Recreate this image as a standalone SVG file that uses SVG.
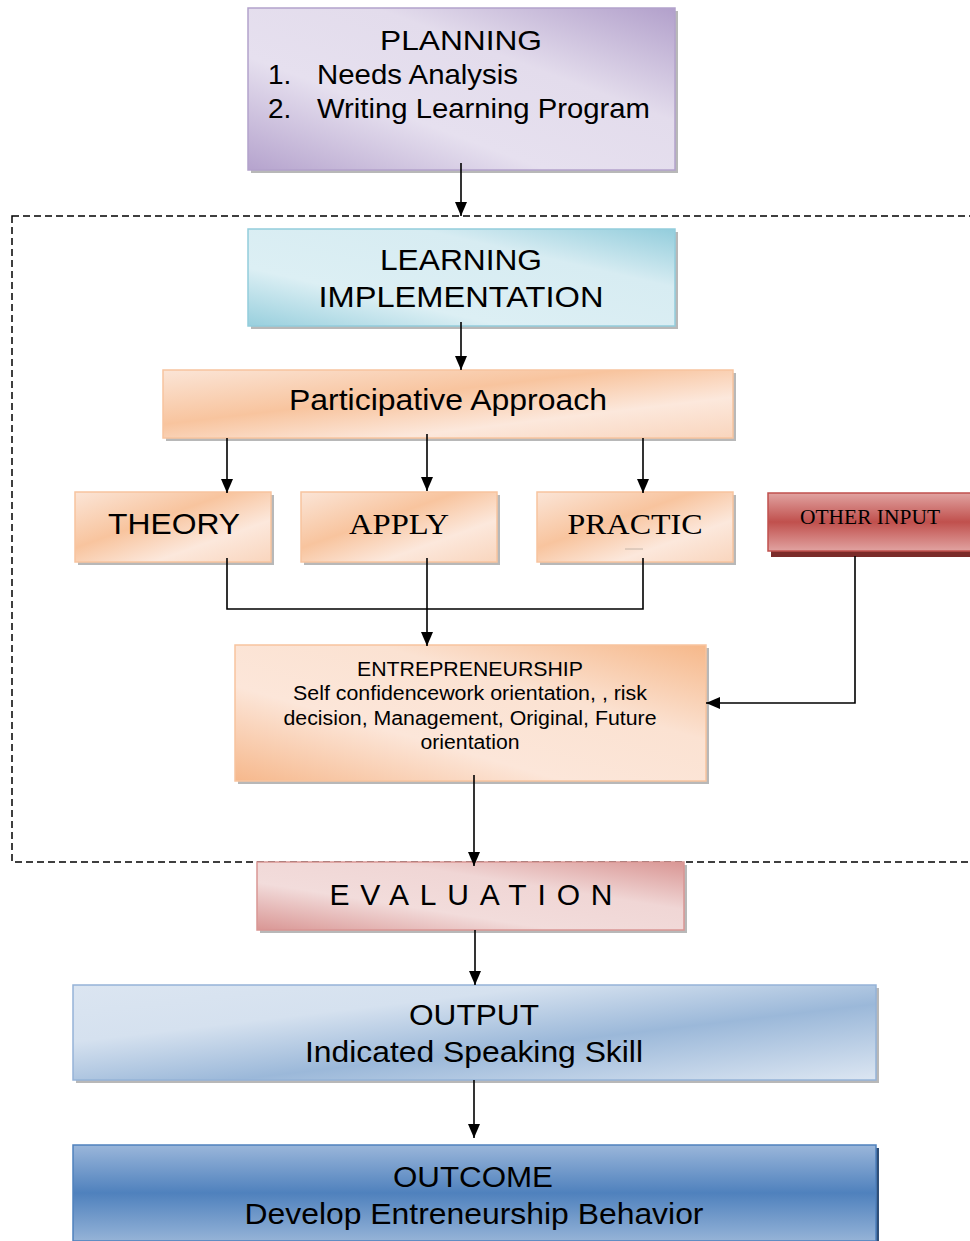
<svg xmlns="http://www.w3.org/2000/svg" width="970" height="1241" viewBox="0 0 970 1241">
<defs>
<linearGradient id="gPurple" x1="0" y1="1" x2="1" y2="0"><stop offset="0" stop-color="#b5a3cd"/><stop offset="0.35" stop-color="#e6e0ef"/><stop offset="0.65" stop-color="#e3dcec"/><stop offset="1" stop-color="#b2a0cb"/></linearGradient>
<linearGradient id="gCyan2" x1="0" y1="1" x2="1" y2="0"><stop offset="0" stop-color="#98cfdd"/><stop offset="0.3" stop-color="#dceff4"/><stop offset="0.7" stop-color="#d7ecf2"/><stop offset="1" stop-color="#93cddc"/></linearGradient>
<linearGradient id="gOrange" x1="0" y1="0" x2="1" y2="1"><stop offset="0" stop-color="#fbe5d7"/><stop offset="0.4" stop-color="#f8c49e"/><stop offset="0.7" stop-color="#fce8dc"/><stop offset="1" stop-color="#f9d5bd"/></linearGradient>
<linearGradient id="gOrange2" x1="0" y1="1" x2="1" y2="0"><stop offset="0" stop-color="#f6b88c"/><stop offset="0.35" stop-color="#fce6d9"/><stop offset="0.65" stop-color="#fbe2d2"/><stop offset="1" stop-color="#f6b88a"/></linearGradient>
<linearGradient id="gRed" x1="0" y1="0" x2="0" y2="1"><stop offset="0" stop-color="#e1a3a1"/><stop offset="0.5" stop-color="#c0504d"/><stop offset="1" stop-color="#e1a3a1"/></linearGradient>
<linearGradient id="gPink" x1="0" y1="1" x2="1" y2="0"><stop offset="0" stop-color="#d99694"/><stop offset="0.35" stop-color="#f2dcdb"/><stop offset="0.65" stop-color="#f0d6d5"/><stop offset="1" stop-color="#d99694"/></linearGradient>
<linearGradient id="gLBlue" x1="0" y1="0" x2="1" y2="1"><stop offset="0" stop-color="#dbe5f1"/><stop offset="0.3" stop-color="#d5e1ef"/><stop offset="0.6" stop-color="#9bb8d9"/><stop offset="1" stop-color="#dce6f2"/></linearGradient>
<linearGradient id="gDBlue" x1="0" y1="0" x2="0" y2="1"><stop offset="0" stop-color="#9ab6da"/><stop offset="0.5" stop-color="#4f81bd"/><stop offset="1" stop-color="#95b3d7"/></linearGradient>
<marker id="arr" viewBox="0 0 14 12" refX="14" refY="6" markerWidth="14" markerHeight="12" markerUnits="userSpaceOnUse" orient="auto"><path d="M0,0 L14,6 L0,12 z" fill="#000"/></marker>
</defs>
<style>
.sh{fill:#9a9a9a;opacity:0.7}
.t{font-family:"Liberation Sans",Arial,sans-serif;fill:#000;text-anchor:middle}
.l{text-anchor:start}
.s{font-family:"Liberation Serif","Times New Roman",serif;fill:#000;text-anchor:middle}
.ln{stroke:#000;stroke-width:1.6;fill:none}
.ar{stroke:#000;stroke-width:1.6;fill:none;marker-end:url(#arr)}
</style>
<rect width="970" height="1241" fill="#fff"/>

<rect x="12" y="216" width="980" height="646" fill="none" stroke="#000" stroke-width="1.5" stroke-dasharray="7,4"/>

<g id="planning">
<rect class="sh" x="251" y="11" width="427" height="162"/>
<rect x="248" y="8" width="427" height="162" fill="url(#gPurple)" stroke="#b3a2cb" stroke-width="1.5"/>
<text class="t" x="461" y="50" font-size="28" textLength="162" lengthAdjust="spacingAndGlyphs">PLANNING</text>
<text class="t l" x="268" y="84" font-size="28">1.</text>
<text class="t l" x="317" y="84" font-size="28" textLength="201" lengthAdjust="spacingAndGlyphs">Needs Analysis</text>
<text class="t l" x="268" y="118" font-size="28">2.</text>
<text class="t l" x="317" y="118" font-size="28" textLength="333" lengthAdjust="spacingAndGlyphs">Writing Learning Program</text>
</g>

<g id="learning">
<rect class="sh" x="251" y="232" width="427" height="97"/>
<rect x="248" y="229" width="427" height="97" fill="url(#gCyan2)" stroke="#93cddc" stroke-width="1.5"/>
<text class="t" x="461" y="270" font-size="30" textLength="162" lengthAdjust="spacingAndGlyphs">LEARNING</text>
<text class="t" x="461" y="307" font-size="30" textLength="285" lengthAdjust="spacingAndGlyphs">IMPLEMENTATION</text>
</g>

<g id="participative">
<rect class="sh" x="166" y="373" width="570" height="68"/>
<rect x="163" y="370" width="570" height="68" fill="url(#gOrange)" stroke="#f7c49f" stroke-width="1.5"/>
<text class="t" x="448" y="410" font-size="30" textLength="318" lengthAdjust="spacingAndGlyphs">Participative Approach</text>
</g>

<g id="theory">
<rect class="sh" x="78" y="495" width="196" height="70"/>
<rect x="75" y="492" width="196" height="70" fill="url(#gOrange)" stroke="#f7c49f" stroke-width="1.5"/>
<text class="t" x="174" y="534" font-size="30" textLength="132" lengthAdjust="spacingAndGlyphs">THEORY</text>
</g>

<g id="apply">
<rect class="sh" x="304" y="495" width="196" height="70"/>
<rect x="301" y="492" width="196" height="70" fill="url(#gOrange)" stroke="#f7c49f" stroke-width="1.5"/>
<text class="s" x="399" y="534" font-size="30" textLength="100" lengthAdjust="spacingAndGlyphs">APPLY</text>
</g>

<g id="practic">
<rect class="sh" x="540" y="495" width="196" height="70"/>
<rect x="537" y="492" width="196" height="70" fill="url(#gOrange)" stroke="#f7c49f" stroke-width="1.5"/>
<text class="s" x="635" y="534" font-size="30" textLength="135" lengthAdjust="spacingAndGlyphs">PRACTIC</text>
<line x1="625" y1="549" x2="643" y2="549" stroke="#b8a89c" stroke-width="0.8"/>
</g>

<g id="other-input">
<rect x="771" y="500" width="210" height="57" fill="#7b2c2a"/>
<rect x="768" y="493" width="210" height="58" fill="url(#gRed)" stroke="#c0504d" stroke-width="1.5"/>
<text class="s" x="870" y="524" font-size="20" textLength="140" lengthAdjust="spacingAndGlyphs">OTHER INPUT</text>
</g>

<g id="entrepreneurship">
<rect class="sh" x="238" y="648" width="471" height="136"/>
<rect x="235" y="645" width="471" height="136" fill="url(#gOrange2)" stroke="#f7c49f" stroke-width="1.5"/>
<text class="t" x="470" y="676" font-size="20" textLength="226" lengthAdjust="spacingAndGlyphs">ENTREPRENEURSHIP</text>
<text class="t" x="470" y="700" font-size="20" textLength="354" lengthAdjust="spacingAndGlyphs">Self confidencework orientation, , risk</text>
<text class="t" x="470" y="725" font-size="20" textLength="373" lengthAdjust="spacingAndGlyphs">decision, Management, Original, Future</text>
<text class="t" x="470" y="749" font-size="20" textLength="99" lengthAdjust="spacingAndGlyphs">orientation</text>
</g>

<g id="evaluation">
<rect class="sh" x="260" y="865" width="427" height="68"/>
<rect x="257" y="862" width="427" height="68" fill="url(#gPink)" stroke="#d99694" stroke-width="1.5"/>
<text class="t" x="471" y="905" font-size="30" textLength="283" lengthAdjust="spacing">EVALUATION</text>
</g>

<g id="output">
<rect class="sh" x="76" y="988" width="803" height="95"/>
<rect x="73" y="985" width="803" height="95" fill="url(#gLBlue)" stroke="#95b3d7" stroke-width="1.5"/>
<text class="t" x="474" y="1025" font-size="30" textLength="130" lengthAdjust="spacingAndGlyphs">OUTPUT</text>
<text class="t" x="474" y="1062" font-size="30" textLength="338" lengthAdjust="spacingAndGlyphs">Indicated Speaking Skill</text>
</g>

<g id="outcome">
<rect x="76" y="1148" width="803" height="96" fill="#2f4f78"/>
<rect x="73" y="1145" width="803" height="96" fill="url(#gDBlue)" stroke="#4f81bd" stroke-width="1.5"/>
<text class="t" x="473" y="1187" font-size="30" textLength="160" lengthAdjust="spacingAndGlyphs">OUTCOME</text>
<text class="t" x="474" y="1224" font-size="30" textLength="459" lengthAdjust="spacingAndGlyphs">Develop Entreneurship Behavior</text>
</g>

<g id="connectors">
<line class="ar" x1="461" y1="163" x2="461" y2="216"/>
<line class="ar" x1="461" y1="322" x2="461" y2="370"/>
<line class="ar" x1="227" y1="438" x2="227" y2="493"/>
<line class="ar" x1="427" y1="434" x2="427" y2="491"/>
<line class="ar" x1="643" y1="438" x2="643" y2="493"/>
<polyline class="ln" points="227,558 227,609 643,609 643,558"/>
<line class="ar" x1="427" y1="558" x2="427" y2="646"/>
<polyline class="ar" points="855,556 855,703 706,703"/>
<line class="ar" x1="474" y1="775" x2="474" y2="866"/>
<line class="ar" x1="475" y1="930" x2="475" y2="985"/>
<line class="ar" x1="474" y1="1080" x2="474" y2="1138"/>
</g>
</svg>
